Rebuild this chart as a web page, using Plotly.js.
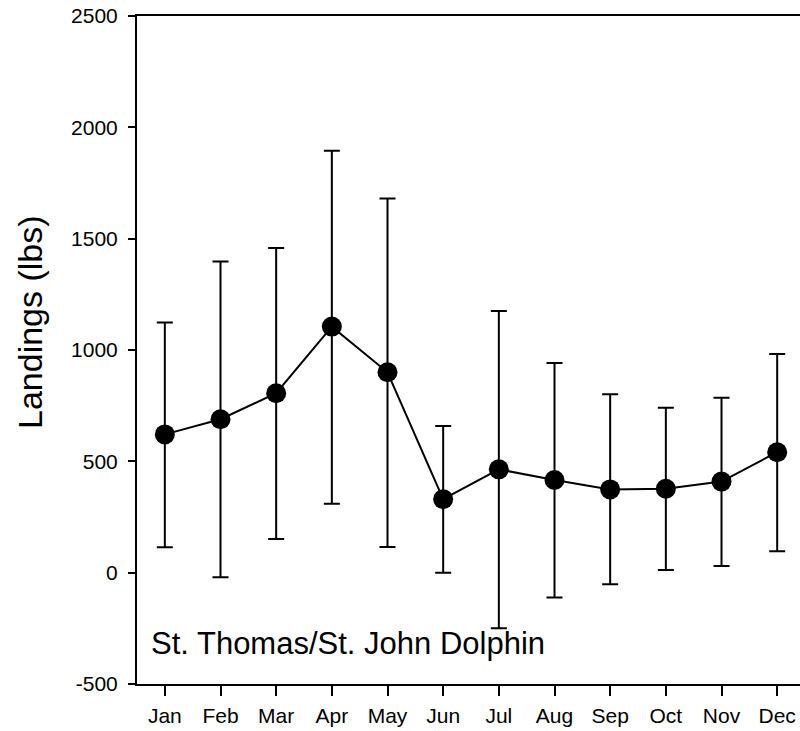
<!DOCTYPE html>
<html>
<head>
<meta charset="utf-8">
<script src="https://cdn.plot.ly/plotly-3.0.1.min.js"></script>
<style>
html,body{margin:0;padding:0;background:#fff;}
#chart{width:800px;height:731px;}
</style>
</head>
<body>
<div id="chart"></div>
<script>
const months = ["Jan","Feb","Mar","Apr","May","Jun","Jul","Aug","Sep","Oct","Nov","Dec"];
const meanLandings = [621, 689, 806, 1105, 900, 330, 464, 416, 374, 377, 409, 541];
const upperBound = [1123, 1397, 1458, 1895, 1680, 659, 1175, 942, 801, 741, 786, 982];
const lowerBound = [114, -21, 151, 310, 115, 0, -250, -112, -52, 12, 30, 96];
const yTicks = [-500, 0, 500, 1000, 1500, 2000, 2500];

const xIdx = months.map((m, i) => i);
const errPlus = upperBound.map((u, i) => u - meanLandings[i]);
const errMinus = lowerBound.map((l, i) => meanLandings[i] - l);

const fontFam = "Arial, 'Liberation Sans', Helvetica, sans-serif";

const trace = {
  x: xIdx,
  y: meanLandings,
  type: "scatter",
  mode: "lines+markers",
  line: {color: "#000", width: 2},
  marker: {color: "#000", size: 20},
  error_y: {
    type: "data",
    symmetric: false,
    array: errPlus,
    arrayminus: errMinus,
    color: "#000",
    thickness: 2,
    width: 8
  },
  showlegend: false,
  hoverinfo: "x+y"
};

const layout = {
  width: 800,
  height: 731,
  margin: {l: 137, r: 0, t: 16, b: 47, pad: 0},
  paper_bgcolor: "#fff",
  plot_bgcolor: "#fff",
  font: {family: fontFam, color: "#000", size: 21},
  xaxis: {
    range: [-0.5, 11.41],
    tickvals: xIdx,
    ticktext: months,
    showline: true,
    linecolor: "#000",
    linewidth: 2,
    mirror: true,
    ticks: "outside",
    ticklen: 10,
    tickwidth: 2,
    tickcolor: "#000",
    ticklabelstandoff: 2,
    showgrid: false,
    zeroline: false,
    tickfont: {size: 21, family: fontFam, color: "#000"}
  },
  yaxis: {
    range: [-500, 2500],
    tickvals: yTicks,
    ticktext: yTicks.map(String),
    showline: true,
    linecolor: "#000",
    linewidth: 2,
    ticks: "outside",
    ticklen: 7,
    tickwidth: 2,
    tickcolor: "#000",
    ticklabelstandoff: 6,
    showgrid: false,
    zeroline: false,
    tickfont: {size: 21, family: fontFam, color: "#000"}
  },
  annotations: [{
    text: "Landings (lbs)",
    xref: "paper",
    yref: "paper",
    x: -(137 - 30) / 663,
    y: (684 - 322) / 668,
    xanchor: "center",
    yanchor: "middle",
    textangle: -90,
    showarrow: false,
    font: {size: 34, family: fontFam, color: "#000"}
  }, {
    text: "St. Thomas/St. John Dolphin",
    xref: "paper",
    yref: "y",
    x: 0.018,
    y: -316,
    xanchor: "left",
    yanchor: "middle",
    showarrow: false,
    font: {size: 31, family: fontFam, color: "#000"}
  }]
};

Plotly.newPlot("chart", [trace], layout, {displayModeBar: false, staticPlot: true});
</script>
</body>
</html>
